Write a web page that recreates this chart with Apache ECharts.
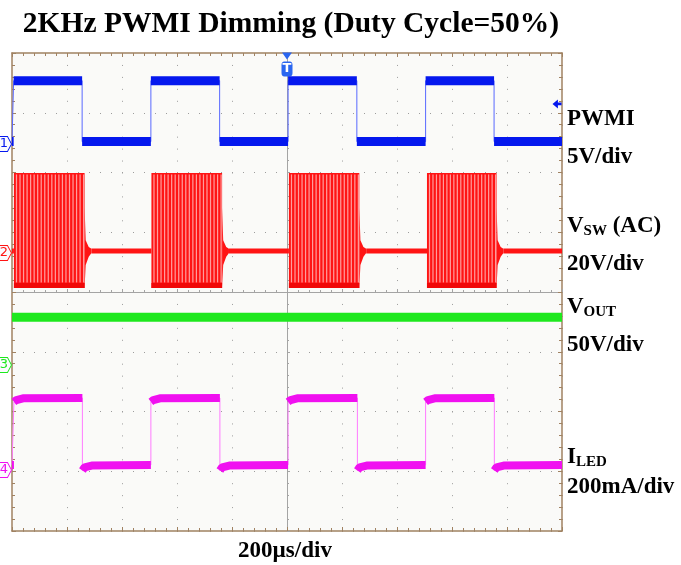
<!DOCTYPE html>
<html><head><meta charset="utf-8">
<script src="https://cdn.jsdelivr.net/npm/echarts@6/dist/echarts.min.js"></script>
<style>html,body{margin:0;padding:0;background:#fff}#c{width:681px;height:565px}</style>
</head><body><div id="c"></div>
<script>
// ---------- data ----------
// time in µs (200 µs/div, 10 div); each channel in its own unit
const timeRange = [0, 2000];
const titleText = '2KHz PWMI Dimming (Duty Cycle=50%)';
const timebaseLabel = '200µs/div';
const channelNames = ['1', '2', '3', '4'];
const channelGroundDiv = [6.477, 4.653, 2.778, 1.021]; // ground marker position (div from bottom)
const channelPerDiv = [5, 20, 50, 200];                 // V/div, V/div, V/div, mA/div

const pwmiTrace = [[0,0.2],[6,0.2],[6,5.3],[255,5.3],[255,0.2],[505,0.2],[505,5.3],[755,5.3],[755,0.2],
  [1004,0.2],[1004,5.3],[1254,5.3],[1254,0.2],[1504,0.2],[1504,5.3],[1753,5.3],[1753,0.2],[2000,0.2]];
const vswBursts = [[7,264,-11.7,26.8],[507,764,-11.7,26.8],[1007,1263,-11.7,26.8],[1509,1762,-11.7,26.8]];
const vswOffLevel = 0.66;
const vswPulsesPerBurst = 20;
const vswTailTop = [[0,15.1],[4,4.3],[15,2.0],[25,1.4]];
const vswTailBottom = [[25,0],[15,-1.3],[4,-4.0],[0,-11.4]];
const voutTrace = [[0,40],[2000,40]];
const iledTrace = [[0,17],[7,17],[7,228],[16,234],[40,240],[256,241],[256,-2],[264,9],[290,15],
  [505,17],[505,228],[514,234],[538,240],[756,241],[756,-2],[764,9],[790,15],
  [1004,17],[1004,228],[1013,234],[1037,240],[1256,241],[1256,-2],[1264,9],[1290,15],
  [1504,17],[1504,228],[1513,234],[1537,240],[1754,241],[1754,-2],[1762,9],[1788,15],[2000,17]];
const triggerTime = 1000;
const triggerLevel = 3.35;

// ---------- helpers ----------
const FONT = '"Liberation Serif","Times New Roman",serif';
const colors = ['#0518ee', '#ff1414', '#1ee81e', '#f010f0'];
const edgeColors = ['#5868ff', '#ff5050', '#60f060', '#ff7aff'];
const border = '#a08262';
const chMin = channelGroundDiv.map((g, i) => -g * channelPerDiv[i]);
const chMax = channelGroundDiv.map((g, i) => (8 - g) * channelPerDiv[i]);

function bandOf(trace) {
  const out = [];
  for (let i = 0; i < trace.length - 1; i++) {
    const a = trace[i], b = trace[i + 1];
    if (b[0] === a[0]) { out.push([a[0], '-']); }
    else {
      if (out.length === 0 || out[out.length - 1][1] === '-') out.push(a);
      out.push(b);
    }
  }
  return out;
}
const vswOffBand = [];
(function () {
  let prev = timeRange[0];
  const tail = vswTailTop[vswTailTop.length - 1][0];
  vswBursts.forEach(b => { vswOffBand.push([prev, vswOffLevel], [b[0], vswOffLevel], [b[0], '-']); prev = b[1] + tail; });
  vswOffBand.push([prev, vswOffLevel], [timeRange[1], vswOffLevel]);
})();

const markerPath = 'path://M0,0 L9,0 L13,7 L9,14 L0,14 Z';
function chMarkerItem(i) {
  return { name: channelNames[i], coord: [timeRange[0], 0], symbolOffset: [-7, 0],
    symbol: markerPath, symbolSize: [13, 15], symbolKeepAspect: false,
    itemStyle: { color: '#fbfbff', borderColor: colors[i], borderWidth: 1 },
    label: { show: true, position: 'inside', formatter: '{b}', color: colors[i], fontSize: 13, fontFamily: 'DejaVu Sans', offset: [-1, 0] } };
}
function chMarker(i) { return { silent: true, animation: false, data: [chMarkerItem(i)] }; }

function renderBurst(params, api) {
  const t0 = api.value(0), t1 = api.value(1), lo = api.value(2), hi = api.value(3);
  const p0 = api.coord([t0, hi]), p1 = api.coord([t1, lo]);
  const w = p1[0] - p0[0], h = p1[1] - p0[1];
  const kids = [{ type: 'rect', shape: { x: p0[0], y: p0[1], width: w, height: h }, style: { fill: '#ff1414' } }];
  const step = w / vswPulsesPerBurst;
  for (let i = 0; i < vswPulsesPerBurst; i++) {
    kids.push({ type: 'rect', shape: { x: p0[0] + i * step + step * 0.55, y: p0[1] + 1.5, width: Math.max(1, step * 0.35), height: h - 7 }, style: { fill: '#ff9c9c' } });
  }
  kids.push({ type: 'rect', shape: { x: p0[0], y: p1[1] - 5, width: w, height: 5 }, style: { fill: '#f00808' } });
  return { type: 'group', children: kids };
}
function renderTail(params, api) {
  const tEnd = api.value(1);
  const pts = vswTailTop.concat(vswTailBottom).map(p => api.coord([tEnd + p[0], p[1]]));
  return { type: 'polygon', shape: { points: pts }, style: { fill: '#ff1414' } };
}

const gridAxisCommon = {
  type: 'value', axisLabel: { show: false },
  axisLine: { show: true, onZero: false, lineStyle: { color: border, width: 1.5 } },
  axisTick: { show: true, inside: true, length: 4, lineStyle: { color: border } },
  minorTick: { show: true, splitNumber: 5, length: 3, lineStyle: { color: border } },
  splitLine: { show: false }
};
const centerAxisCommon = {
  type: 'value', axisLabel: { show: false },
  axisLine: { show: true, onZero: false, lineStyle: { color: '#a4a4a4', width: 1 } },
  axisTick: { show: true, inside: true, length: 3, lineStyle: { color: '#a4a4a4' } },
  minorTick: { show: true, splitNumber: 5, length: 2, lineStyle: { color: '#a4a4a4' } },
  splitLine: { show: false }
};

const sub = { fontSize: 15, fontWeight: 'bold', fontFamily: FONT, lineHeight: 15, verticalAlign: 'bottom', color: '#000' };
const main = { fontSize: 23, fontWeight: 'bold', fontFamily: FONT, lineHeight: 26, color: '#000' };
function label(text, x, y) {
  return { type: 'text', x: x, y: y, style: { text: text, rich: { m: main, s: sub }, fill: '#000',
    font: 'bold 23px ' + FONT, align: 'left', verticalAlign: 'middle', textAlign: 'left', textVerticalAlign: 'middle' } };
}

const chart = echarts.init(document.getElementById('c'), null, { renderer: 'canvas' });
chart.setOption({
  animation: false,
  backgroundColor: '#ffffff',
  grid: { left: 12, top: 53, width: 550, height: 478, show: true, backgroundColor: '#fafaf8', borderWidth: 0 },
  xAxis: [
    Object.assign({}, gridAxisCommon, { min: timeRange[0], max: timeRange[1], interval: 200, position: 'bottom',
      splitLine: { show: true, lineStyle: { color: '#9c9c9c', type: [1, 10.95], width: 1 } } }),
    Object.assign({}, gridAxisCommon, { min: timeRange[0], max: timeRange[1], interval: 200, position: 'top' }),
    Object.assign({}, centerAxisCommon, { min: timeRange[0], max: timeRange[1], interval: 200, position: 'bottom', offset: -239 })
  ],
  yAxis: [
    Object.assign({}, gridAxisCommon, { min: 0, max: 8, interval: 1, position: 'left',
      splitLine: { show: true, lineStyle: { color: '#9c9c9c', type: [1, 10], width: 1 } } }),
    Object.assign({}, gridAxisCommon, { min: 0, max: 8, interval: 1, position: 'right' }),
    Object.assign({}, centerAxisCommon, { min: 0, max: 8, interval: 1, position: 'left', offset: -275 }),
    { type: 'value', show: false, min: chMin[0], max: chMax[0] },
    { type: 'value', show: false, min: chMin[1], max: chMax[1] },
    { type: 'value', show: false, min: chMin[2], max: chMax[2] },
    { type: 'value', show: false, min: chMin[3], max: chMax[3] }
  ],
  series: [
    { type: 'line', xAxisIndex: 0, yAxisIndex: 3, data: pwmiTrace, symbol: 'none', silent: true, z: 5,
      lineStyle: { color: edgeColors[0], width: 1 },
      markPoint: {
        silent: true, animation: false,
        data: [
          chMarkerItem(0),
          { name: '', coord: [triggerTime, chMax[0]], symbol: 'triangle', symbolRotate: 180, symbolSize: [10, 7], symbolOffset: [0, 3],
            itemStyle: { color: '#2a66f0' }, label: { show: false } },
          { name: 'T', coord: [triggerTime, chMax[0]], symbol: 'roundRect', symbolSize: [11, 15], symbolOffset: [0, 16],
            itemStyle: { color: '#2a66f0' }, label: { show: true, position: 'inside', formatter: '{b}', color: '#fff', fontSize: 13, fontWeight: 'bold', fontFamily: 'DejaVu Sans' } },
          { name: '', coord: [timeRange[1], triggerLevel], symbol: 'path://M0,5 L6,0 L6,3.5 L10,3.5 L10,6.5 L6,6.5 L6,10 Z',
            symbolSize: [9, 9], symbolOffset: [-5, 0], itemStyle: { color: colors[0] }, label: { show: false } }
        ]
      } },
    { type: 'line', xAxisIndex: 0, yAxisIndex: 3, data: bandOf(pwmiTrace), symbol: 'none', silent: true, z: 6,
      connectNulls: false, lineStyle: { color: colors[0], width: 9 } },
    { type: 'line', xAxisIndex: 0, yAxisIndex: 4, data: vswOffBand, symbol: 'none', silent: true, z: 5,
      connectNulls: false, lineStyle: { color: colors[1], width: 5 }, markPoint: chMarker(1) },
    { type: 'custom', xAxisIndex: 0, yAxisIndex: 4, data: vswBursts, renderItem: renderTail, silent: true, z: 5 },
    { type: 'custom', xAxisIndex: 0, yAxisIndex: 4, data: vswBursts, renderItem: renderBurst, silent: true, z: 5 },
    { type: 'line', xAxisIndex: 0, yAxisIndex: 5, data: voutTrace, symbol: 'none', silent: true, z: 5,
      lineStyle: { color: colors[2], width: 9 }, markPoint: chMarker(2) },
    { type: 'line', xAxisIndex: 0, yAxisIndex: 6, data: iledTrace, symbol: 'none', silent: true, z: 5,
      lineStyle: { color: edgeColors[3], width: 1 }, markPoint: chMarker(3) },
    { type: 'line', xAxisIndex: 0, yAxisIndex: 6, data: bandOf(iledTrace), symbol: 'none', silent: true, z: 6,
      connectNulls: false, lineStyle: { color: colors[3], width: 8, join: 'bevel' } }
  ],
  graphic: [
    { type: 'text', x: 291, y: 24, style: { text: titleText, font: 'bold 29.5px ' + FONT, fill: '#000',
      align: 'center', verticalAlign: 'middle', textAlign: 'center', textVerticalAlign: 'middle' } },
    { type: 'text', x: 285, y: 551, style: { text: timebaseLabel, font: 'bold 23px ' + FONT, fill: '#000',
      align: 'center', verticalAlign: 'middle', textAlign: 'center', textVerticalAlign: 'middle' } },
    label('{m|PWMI}', 567, 119),
    label('{m|5V/div}', 567, 157),
    label('{m|V}{s|SW}{m| (AC)}', 567, 226),
    label('{m|20V/div}', 567, 264),
    label('{m|V}{s|OUT}', 567, 307),
    label('{m|50V/div}', 567, 345),
    label('{m|I}{s|LED}', 567, 457),
    label('{m|200mA/div}', 567, 487)
  ]
});
</script>
</body></html>
